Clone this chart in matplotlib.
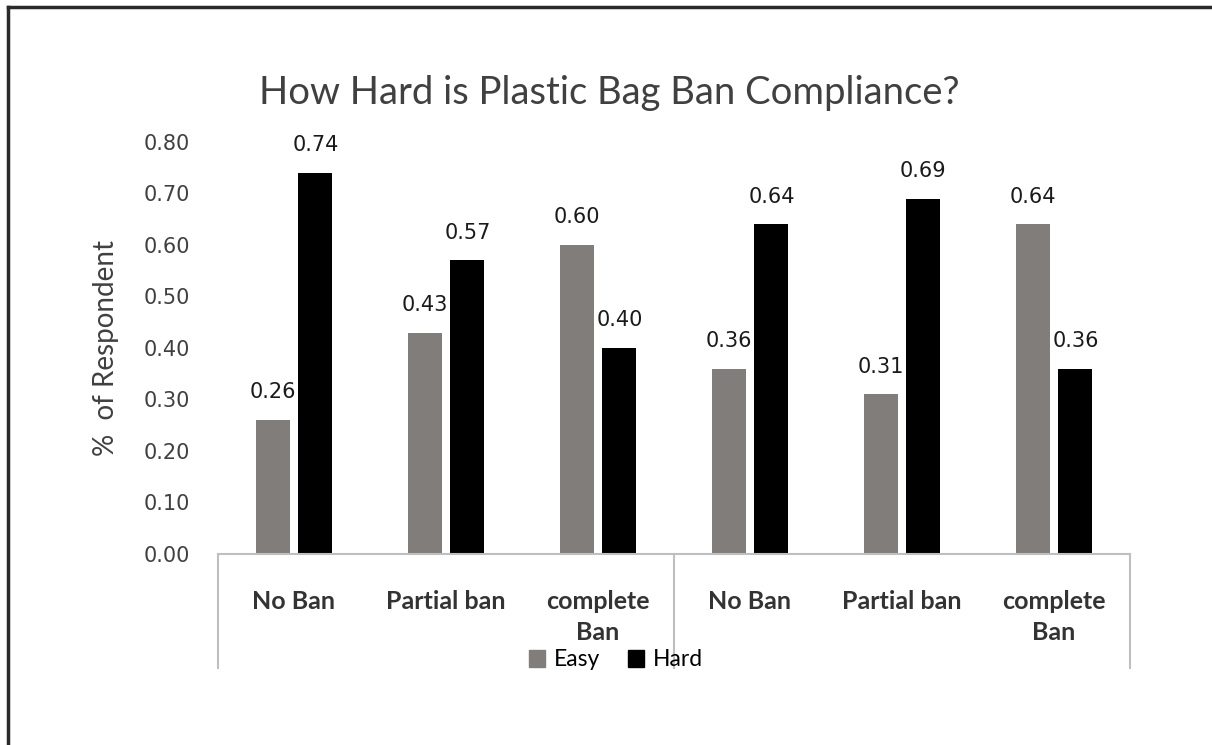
import numpy as np
import matplotlib
matplotlib.use("Agg")
import matplotlib.pyplot as plt
from matplotlib.patches import Patch
from matplotlib.lines import Line2D

# survey results: share of respondents per ban status
categories = ["No Ban", "Partial ban", "complete\nBan", "No Ban", "Partial ban", "complete\nBan"]
easy = [0.26, 0.43, 0.60, 0.36, 0.31, 0.64]
hard = [0.74, 0.57, 0.40, 0.64, 0.69, 0.36]
yticks = [0.0, 0.1, 0.2, 0.3, 0.4, 0.5, 0.6, 0.7, 0.8]

EASY_COLOR = "#807d7a"
HARD_COLOR = "#000000"
TEXT_COLOR = "#404040"

fig = plt.figure(figsize=(12.12, 7.45), dpi=100)
ax = fig.add_axes([218 / 1212, 1 - 554 / 745, 912 / 1212, 412 / 745])

x = np.arange(len(categories))
width = 0.224
offset = 0.141
bars_easy = ax.bar(x - offset, easy, width, color=EASY_COLOR, label="Easy")
bars_hard = ax.bar(x + offset, hard, width, color=HARD_COLOR, label="Hard")

# value labels above each bar
for bars, vals in ((bars_easy, easy), (bars_hard, hard)):
    for b, v in zip(bars, vals):
        ax.annotate(f"{v:.2f}", (b.get_x() + b.get_width() / 2, v),
                    xytext=(0, 20), textcoords="offset points",
                    ha="center", va="center", fontsize=15,
                    family="DejaVu Sans", color="#1a1a1a")

ax.set_xlim(-0.5, len(categories) - 0.5)
ax.set_ylim(0, 0.8)
ax.set_yticks(yticks)
ax.set_yticklabels([f"{t:.2f}" for t in yticks], fontsize=15,
                   family="DejaVu Sans", color=TEXT_COLOR)
ax.tick_params(axis="y", length=0, pad=20)

ax.set_xticks(x)
ax.set_xticklabels(categories, fontsize=18, family="Lato", fontweight="bold",
                   color="#333333", linespacing=1.4)
ax.tick_params(axis="x", length=0, pad=26)

for side in ("top", "right", "left"):
    ax.spines[side].set_visible(False)
ax.spines["bottom"].set_color("#bfbfbf")
ax.spines["bottom"].set_linewidth(1.5)

# group dividers below the category axis
drop = -114 / 412
for xv in (-0.5, 2.5, len(categories) - 0.5):
    ax.plot([xv, xv], [0, drop], color="#bfbfbf", lw=1.5,
            transform=ax.get_xaxis_transform(), clip_on=False)

ax.set_ylabel("%  of Respondent", fontsize=20, family="Lato", color=TEXT_COLOR,
              labelpad=18)

fig.text(609 / 1212, 1 - 93 / 745, "How Hard is Plastic Bag Ban Compliance?",
         ha="center", va="center", fontsize=27.5, family="Lato", color=TEXT_COLOR)

handles = [Patch(color=EASY_COLOR, label="Easy"), Patch(color=HARD_COLOR, label="Hard")]
fig.legend(handles=handles, loc="center", bbox_to_anchor=(616 / 1212, 1 - 660 / 745),
           ncol=2, frameon=False, handlelength=0.7, handleheight=0.7,
           handletextpad=0.4, columnspacing=1.2, prop={"family": "Lato", "size": 16.5})

# outer border (left and top edges)
fig.add_artist(Line2D([8 / 1212, 8 / 1212], [0, 1 - 7 / 745], color="#2a2a2a", lw=2.5))
fig.add_artist(Line2D([8 / 1212, 1], [1 - 7 / 745, 1 - 7 / 745], color="#2a2a2a", lw=2.5))

fig.savefig("out.png", dpi=100)
